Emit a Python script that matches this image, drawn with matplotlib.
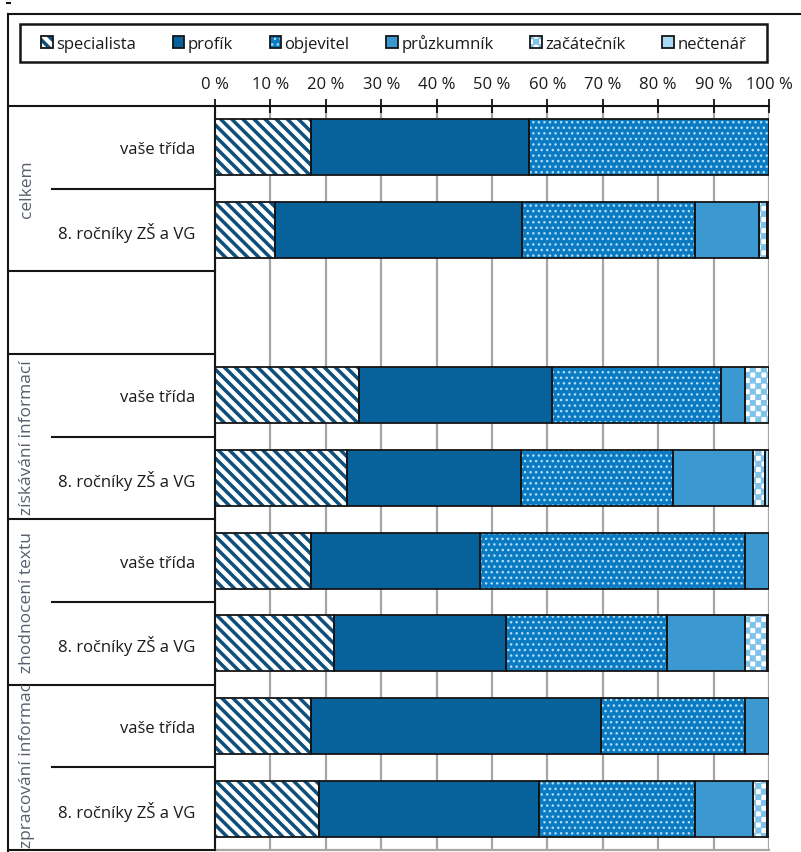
import warnings
import numpy as np
import matplotlib
matplotlib.use("Agg")
import matplotlib.pyplot as plt
import matplotlib.patches as mpatches
from matplotlib import hatch as mhatch
from matplotlib.path import Path
from matplotlib.lines import Line2D
from matplotlib.transforms import blended_transform_factory, offset_copy

warnings.filterwarnings("ignore")
plt.rcParams["font.family"] = ["Open Sans", "DejaVu Sans"]
plt.rcParams["hatch.linewidth"] = 1.0

# data
series_names = ["specialista", "profík", "objevitel", "průzkumník", "začátečník", "nečtenář"]
row_labels = ["vaše třída", "8. ročníky ZŠ a VG", "",
              "vaše třída", "8. ročníky ZŠ a VG",
              "vaše třída", "8. ročníky ZŠ a VG",
              "vaše třída", "8. ročníky ZŠ a VG"]
group_names = ["celkem", "", "získávání informací", "zhodnocení textu", "zpracování informací"]
group_rows = [[0, 1], [2], [3, 4], [5, 6], [7, 8]]

specialista = [17.4, 10.8, 0, 26.0, 23.9, 17.4, 21.4, 17.4, 18.8]
profik = [39.2, 44.7, 0, 34.9, 31.4, 30.5, 31.2, 52.3, 39.6]
objevitel = [43.4, 31.1, 0, 30.4, 27.3, 47.8, 29.0, 26.0, 28.2]
pruzkumnik = [0, 11.6, 0, 4.3, 14.5, 4.3, 14.1, 4.3, 10.5]
zacatecnik = [0, 1.4, 0, 4.4, 2.2, 0, 3.9, 0, 2.5]
nectenar = [0, 0.4, 0, 0, 0.7, 0, 0.4, 0, 0.4]
values = [specialista, profik, objevitel, pruzkumnik, zacatecnik, nectenar]

ticks = list(range(0, 101, 10))
tick_labels = [f"{t} %" for t in ticks]


# Excel-like fill patterns, registered as extra hatch characters
class CheckerHatch(mhatch.HatchPatternBase):
    # '#': checkerboard of filled squares
    def __init__(self, hatch, density):
        self.n = hatch.count("#") * density
        self.n += self.n % 2
        self.num_vertices = (self.n * self.n // 2) * 5

    def set_vertices_and_codes(self, vertices, codes):
        s = 1.0 / self.n
        d = 0.004
        k = 0
        for i in range(self.n):
            for j in range(self.n):
                if (i + j) % 2 == 0:
                    a, b = i * s + d, j * s + d
                    c = s - 2 * d
                    vertices[k:k + 5] = [(a, b), (a + c, b), (a + c, b + c), (a, b + c), (a, b)]
                    codes[k:k + 5] = [Path.MOVETO, Path.LINETO, Path.LINETO,
                                      Path.LINETO, Path.CLOSEPOLY]
                    k += 5


class WideStripeHatch(mhatch.HatchPatternBase):
    # 'w': thick filled stripes running top-left to bottom-right
    def __init__(self, hatch, density):
        self.n = hatch.count("w") * 3 * density // 2
        self.ks = list(range(-self.n, 2 * self.n + 1)) if self.n else []
        self.num_vertices = len(self.ks) * 5

    def set_vertices_and_codes(self, vertices, codes):
        w = 0.03
        k = 0
        for i in self.ks:
            c = i / self.n
            vertices[k:k + 5] = [(-1, c + 1), (2, c - 2), (2, c + w - 2),
                                 (-1, c + w + 1), (-1, c + 1)]
            codes[k:k + 5] = [Path.MOVETO, Path.LINETO, Path.LINETO,
                              Path.LINETO, Path.CLOSEPOLY]
            k += 5


mhatch._hatch_types.extend([CheckerHatch, WideStripeHatch])

styles = [
    dict(face="white", hatch="w", hcolor="#0e4f7b"),
    dict(face="#07619a", hatch=None, hcolor="#07619a"),
    dict(face="#0a7bc3", hatch="...", hcolor="#b5dcf5"),
    dict(face="#3b98d0", hatch=None, hcolor="#3b98d0"),
    dict(face="white", hatch="###", hcolor="#7fc2ea"),
    dict(face="#a9daf3", hatch=None, hcolor="#a9daf3"),
]

W, H = 801, 853
fig = plt.figure(figsize=(W / 100, H / 100), dpi=100)
ax = fig.add_axes([215 / W, 1 - 851 / H, (769 - 215) / W, (851 - 107) / H])

y = np.arange(len(row_labels))
left = np.zeros(len(row_labels))
bar_h = 0.68

handles = []
for vals, st in zip(values, styles):
    vals = np.array(vals, float)
    idx = np.nonzero(vals > 0)[0]
    ax.barh(y[idx], vals[idx], left=left[idx], height=bar_h,
            color=st["face"], edgecolor=st["hcolor"], hatch=st["hatch"],
            linewidth=0, zorder=2)
    ax.barh(y[idx], vals[idx], left=left[idx], height=bar_h, fill=False,
            edgecolor="#151515", linewidth=1.3, zorder=3)
    hp = mpatches.Patch(facecolor=st["face"], edgecolor=st["hcolor"],
                        hatch=st["hatch"], linewidth=0)
    hb = mpatches.Patch(fill=False, edgecolor="#151515", linewidth=1.3)
    handles.append((hp, hb))
    left += vals

ax.set_xlim(0, 100)
ax.set_ylim(len(row_labels) - 0.5, -0.5)
ax.xaxis.tick_top()
ax.set_xticks(ticks, tick_labels)
ax.tick_params(axis="x", direction="inout", length=10, width=1.2, pad=5,
               labelsize=12, labelcolor="#1a1a1a")
ax.set_yticks(y, row_labels)
ax.tick_params(axis="y", length=0, pad=14, labelsize=12, labelcolor="#1a1a1a")
ax.grid(axis="x", color="#a6a6a6", linewidth=1.6)
ax.set_axisbelow(True)
ax.spines["right"].set_visible(False)
ax.spines["bottom"].set_color("#a6a6a6")
ax.spines["bottom"].set_linewidth(1.6)
for s in ["top", "left"]:
    ax.spines[s].set_linewidth(1.5)
    ax.spines[s].set_color("#151515")

# left table: lines and group names
tr = blended_transform_factory(fig.transFigure, ax.transData)
x0, x1, xin = 8 / W, 215 / W, 52 / W
line_kw = dict(color="#151515", linewidth=1.5, transform=tr, clip_on=False)
fig.add_artist(Line2D([x0, x1], [-0.5, -0.5], **line_kw))
renderer = fig.canvas.get_renderer()
for name, rows in zip(group_names, group_rows):
    top, bot = rows[0] - 0.5, rows[-1] + 0.5
    fig.add_artist(Line2D([x0, x1], [bot, bot], **line_kw))
    for r in rows[:-1]:
        fig.add_artist(Line2D([xin, x1], [r + 0.5, r + 0.5], **line_kw))
    if name:
        cell = mpatches.Rectangle((x0, top), x1 - x0, bot - top, transform=tr)
        t = fig.text(27 / W, (top + bot) / 2, name, rotation=90, ha="center",
                     va="center", fontsize=12.5, color="#55606c", transform=tr)
        t.set_clip_path(cell)
        # too long for its cell: start it at the bottom, like the original
        cell_px = abs(tr.transform((0, bot))[1] - tr.transform((0, top))[1])
        if t.get_window_extent(renderer).height > cell_px - 4:
            t.set_y(bot)
            t.set_va("bottom")
            t.set_transform(offset_copy(tr, fig=fig, y=3, units="dots"))

# outer frame
fig.add_artist(Line2D([x0, 1], [1 - 15 / H, 1 - 15 / H], color="#151515", linewidth=1.5))
fig.add_artist(Line2D([x0, x0], [1 - 15 / H, 0], color="#151515", linewidth=1.5))
fig.add_artist(Line2D([7 / W, 10 / W], [1 - 4 / H, 1 - 4 / H], color="#151515", linewidth=1.5))

# legend
fig.add_artist(mpatches.Rectangle((20 / W, 1 - 63 / H), 747 / W, 38 / H, fill=False,
                                  edgecolor="#151515", linewidth=1.8,
                                  transform=fig.transFigure))
fig.legend(handles, series_names, loc="center",
           bbox_to_anchor=((20 + 767) / 2 / W, 1 - 44 / H), ncol=6, frameon=False,
           fontsize=12, handlelength=0.7, handleheight=0.7, handletextpad=0.2,
           columnspacing=2.2, labelcolor="#1a1a1a")

fig.savefig("out.png", dpi=100)
